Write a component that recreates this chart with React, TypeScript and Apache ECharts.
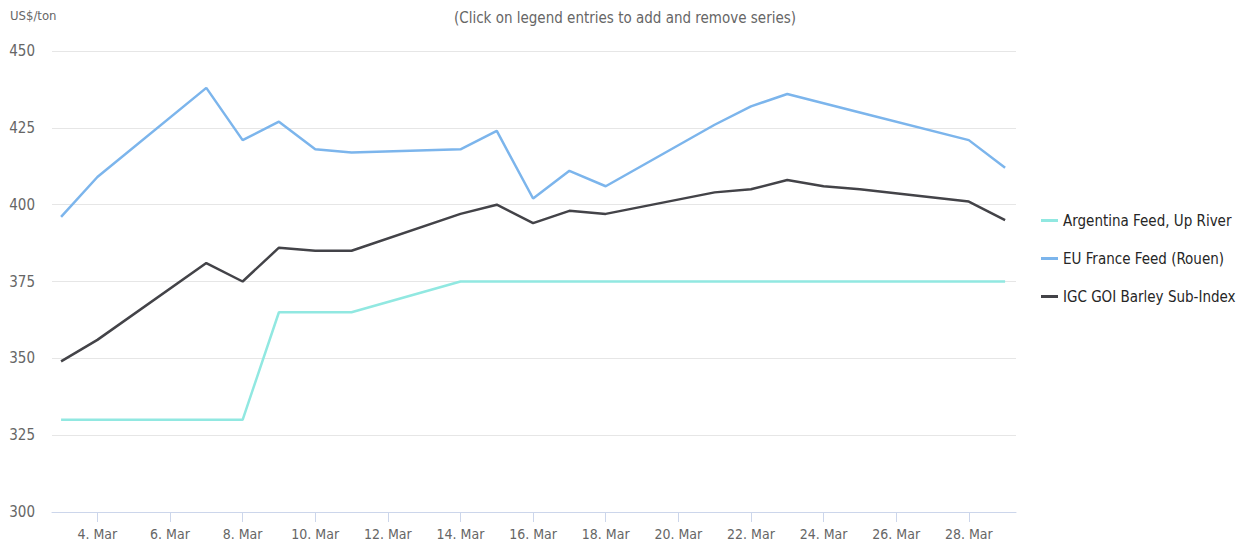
import React, { useEffect, useRef } from "react";
import * as echarts from "echarts";

// Day of March 2022 for each observation
const days = [3, 4, 7, 8, 9, 10, 11, 14, 15, 16, 17, 18, 21, 22, 23, 24, 25, 28, 29];
const argentinaFeed = [330, 330, 330, 330, 365, 365, 365, 375, 375, 375, 375, 375, 375, 375, 375, 375, 375, 375, 375];
const euFranceFeed = [396, 409, 438, 421, 427, 418, 417, 418, 424, 402, 411, 406, 426, 432, 436, 433, 430, 421, 412];
const igcBarley = [349, 356, 381, 375, 386, 385, 385, 397, 400, 394, 398, 397, 404, 405, 408, 406, 405, 401, 395];
const seriesNames = ["Argentina Feed, Up River", "EU France Feed (Rouen)", "IGC GOI Barley Sub-Index"];
const xTickDays = [4, 6, 8, 10, 12, 14, 16, 18, 20, 22, 24, 26, 28];
const monthLabel = "Mar";
const titleText = "(Click on legend entries to add and remove series)";
const unitText = "US$/ton";

const FONT = '"DejaVu Sans Condensed", "DejaVu Sans", sans-serif';

export default function App() {
  const ref = useRef<HTMLDivElement>(null);
  useEffect(() => {
    if (!ref.current) return;
    const chart = echarts.init(ref.current, undefined, { renderer: "svg" });
    const pair = (vals: number[]) => days.map((d, i) => [d, vals[i]]);
    const colors = ["#91e8e1", "#7cb5ec", "#434348"];
    const allVals = [argentinaFeed, euFranceFeed, igcBarley];
    chart.setOption({
      animation: false,
      textStyle: { fontFamily: FONT },
      title: {
        text: titleText,
        left: "center",
        top: 5,
        textStyle: { fontFamily: FONT, fontSize: 15, fontWeight: "normal", color: "#666666" },
      },
      graphic: [
        {
          type: "text",
          left: 10,
          top: 9,
          style: { text: unitText, fontFamily: FONT, fontSize: 13, fill: "#666666" },
        },
      ],
      legend: {
        orient: "vertical",
        left: 1036,
        top: 208,
        itemWidth: 17,
        itemHeight: 3,
        itemGap: 23,
        icon: "rect",
        textStyle: { fontFamily: FONT, fontSize: 15, color: "#262626" },
        data: seriesNames,
      },
      grid: { left: 52, right: 234, top: 51, bottom: 36, containLabel: false },
      xAxis: {
        type: "value",
        min: 2.75,
        max: 29.3,
        splitLine: { show: false },
        axisLine: { show: true, lineStyle: { color: "#ccd6eb", width: 1 } },
        axisTick: { show: true, length: 10, lineStyle: { color: "#ccd6eb" }, customValues: xTickDays },
        axisLabel: {
          customValues: xTickDays,
          formatter: (v: number) => `${v}. ${monthLabel}`,
          fontFamily: FONT,
          fontSize: 14,
          color: "#666666",
          margin: 15,
        },
      },
      yAxis: {
        type: "value",
        min: 300,
        max: 450,
        interval: 25,
        axisLine: { show: false },
        axisTick: { show: false },
        splitLine: { lineStyle: { color: "#e6e6e6", width: 1 } },
        axisLabel: { fontFamily: FONT, fontSize: 15, color: "#666666", margin: 17 },
      },
      series: seriesNames.map((name, i) => ({
        name,
        type: "line",
        data: pair(allVals[i]),
        showSymbol: false,
        symbol: "none",
        color: colors[i],
        lineStyle: { width: 2.5, color: colors[i] },
      })),
    });
    return () => chart.dispose();
  }, []);
  return <div ref={ref} style={{ width: 1250, height: 548, position: "absolute", left: 0, top: 0 }} />;
}
